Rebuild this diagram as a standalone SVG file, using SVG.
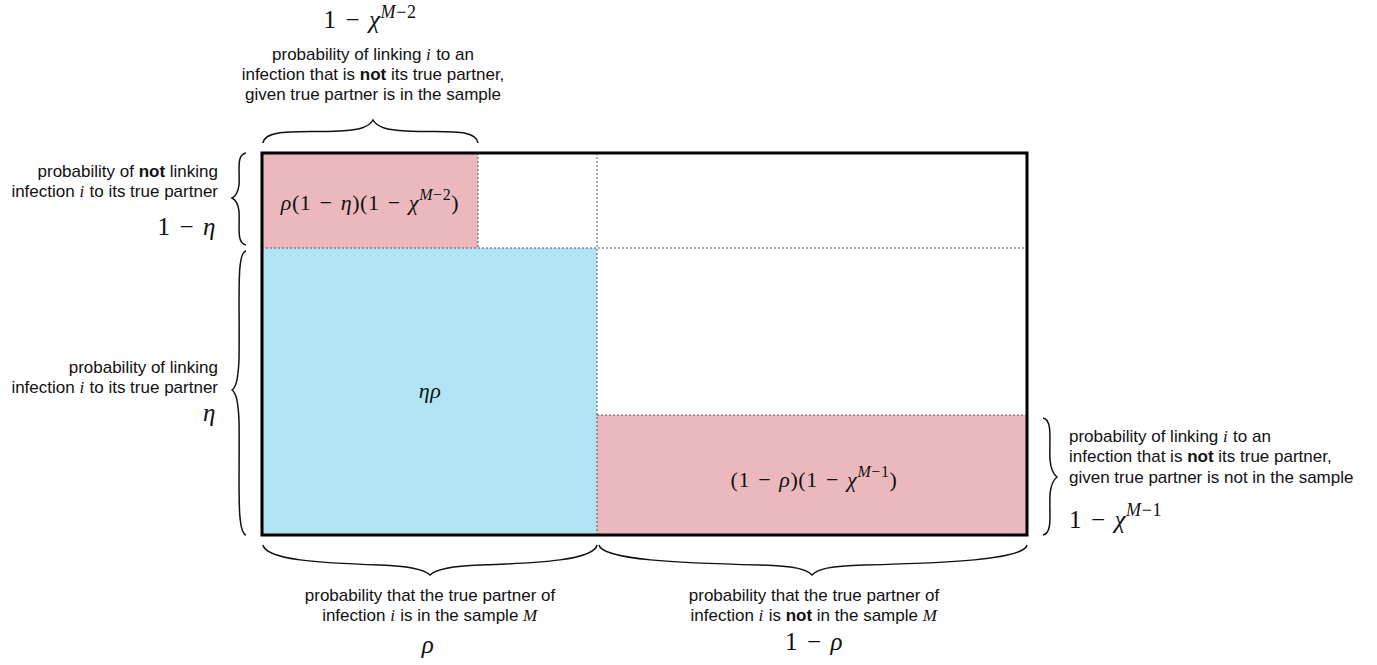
<svg xmlns="http://www.w3.org/2000/svg" width="1377" height="665" viewBox="0 0 1377 665">
<style>
.t{font-family:"Liberation Sans",Arial,sans-serif;font-size:17px;fill:#111}
.m{font-family:"Liberation Serif","Times New Roman",serif;fill:#111;word-spacing:2px;letter-spacing:0.6px}
.i{font-style:italic}
.b{font-weight:bold}
.brace{fill:none;stroke:#111;stroke-width:1.5}
.dot{stroke:#555;stroke-width:1;stroke-dasharray:2,2;fill:none}
</style>
<rect width="1377" height="665" fill="#fff"/>
<g id="cell-pink-top"><rect x="262" y="153" width="216" height="95" fill="#EBB9BD"/>
<text class="m" x="370" y="210" font-size="22" text-anchor="middle"><tspan class="i">ρ</tspan>(1 − <tspan class="i">η</tspan>)(1 − <tspan class="i">χ</tspan><tspan class="i" font-size="16" dy="-10">M</tspan><tspan font-size="16">−2</tspan><tspan dy="10">)</tspan></text></g>
<g id="cell-blue"><rect x="262" y="248" width="335" height="287" fill="#B1E5F6"/>
<text class="m i" x="430" y="398" font-size="22" text-anchor="middle">ηρ</text></g>
<g id="cell-pink-bottom"><rect x="597" y="415" width="430" height="120" fill="#EBB9BD"/>
<text class="m" x="814" y="487" font-size="22" text-anchor="middle">(1 − <tspan class="i">ρ</tspan>)(1 − <tspan class="i">χ</tspan><tspan class="i" font-size="16" dy="-10">M</tspan><tspan font-size="16">−1</tspan><tspan dy="10">)</tspan></text></g>
<g id="connectors">
<line class="dot" x1="597" y1="153" x2="597" y2="535"/>
<line class="dot" x1="478" y1="153" x2="478" y2="248"/>
<line class="dot" x1="262" y1="248" x2="1027" y2="248"/>
<line class="dot" x1="597" y1="415" x2="1027" y2="415"/>
<rect x="262" y="153" width="765" height="382" fill="none" stroke="#000" stroke-width="3"/>
<path class="brace" d="M263,143 C265,128 300,133 340,131 C360,130 369,127 373,120 C377,127 386,130 406,131 C446,133 476,128 478,143"/>
<path class="brace" d="M246,153 C236,155 240,170 239,185 C238,193 236,196 232,198 C236,200 238,203 239,211 C240,226 236,243 246,245"/>
<path class="brace" d="M246,251 C236,253 240,300 239,360 C238,380 236,387 232,390 C236,393 238,400 239,420 C240,480 236,532 246,535"/>
<path class="brace" d="M263,545 C266,560 320,563 380,565 C410,566 424,569 430,575 C436,569 450,566 480,565 C540,563 594,560 597,545"/>
<path class="brace" d="M599,545 C602,560 680,563 760,565 C795,566 806,569 812,575 C818,569 829,566 864,565 C944,563 1024,560 1027,545"/>
<path class="brace" d="M1043,418 C1053,420 1049,440 1050,460 C1051,470 1053,474 1057,477 C1053,480 1051,484 1050,494 C1049,514 1053,533 1043,535"/>
</g>
<g id="label-top">
<text class="m" x="370" y="28" font-size="25" text-anchor="middle">1 − <tspan class="i">χ</tspan><tspan class="i" font-size="18" dy="-10">M</tspan><tspan font-size="18">−2</tspan></text>
<text class="t" x="373" y="60" text-anchor="middle">probability of linking <tspan class="m i">i</tspan> to an</text>
<text class="t" x="373" y="80" text-anchor="middle">infection that is <tspan class="b">not</tspan> its true partner,</text>
<text class="t" x="373" y="100" text-anchor="middle">given true partner is in the sample</text>
</g>
<g id="label-left-top">
<text class="t" x="218" y="177" text-anchor="end">probability of <tspan class="b">not</tspan> linking</text>
<text class="t" x="218" y="197" text-anchor="end">infection <tspan class="m i">i</tspan> to its true partner</text>
<text class="m" x="216" y="235" font-size="25" text-anchor="end">1 − <tspan class="i">η</tspan></text>
</g>
<g id="label-left-bottom">
<text class="t" x="218" y="373" text-anchor="end">probability of linking</text>
<text class="t" x="218" y="393" text-anchor="end">infection <tspan class="m i">i</tspan> to its true partner</text>
<text class="m i" x="216" y="421" font-size="25" text-anchor="end">η</text>
</g>
<g id="label-right">
<text class="t" x="1069" y="442">probability of linking <tspan class="m i">i</tspan> to an</text>
<text class="t" x="1069" y="462">infection that is <tspan class="b">not</tspan> its true partner,</text>
<text class="t" x="1069" y="483">given true partner is not in the sample</text>
<text class="m" x="1069" y="528" font-size="25">1 − <tspan class="i">χ</tspan><tspan class="i" font-size="18" dy="-12">M</tspan><tspan font-size="18">−1</tspan></text>
</g>
<g id="label-bottom-left">
<text class="t" x="430" y="601" text-anchor="middle">probability that the true partner of</text>
<text class="t" x="430" y="621" text-anchor="middle">infection <tspan class="m i">i</tspan> is in the sample <tspan class="m i">M</tspan></text>
<text class="m i" x="428" y="653" font-size="25" text-anchor="middle">ρ</text>
</g>
<g id="label-bottom-right">
<text class="t" x="814" y="601" text-anchor="middle">probability that the true partner of</text>
<text class="t" x="814" y="621" text-anchor="middle">infection <tspan class="m i">i</tspan> is <tspan class="b">not</tspan> in the sample <tspan class="m i">M</tspan></text>
<text class="m" x="814" y="650" font-size="25" text-anchor="middle">1 − <tspan class="i">ρ</tspan></text>
</g>
</svg>
